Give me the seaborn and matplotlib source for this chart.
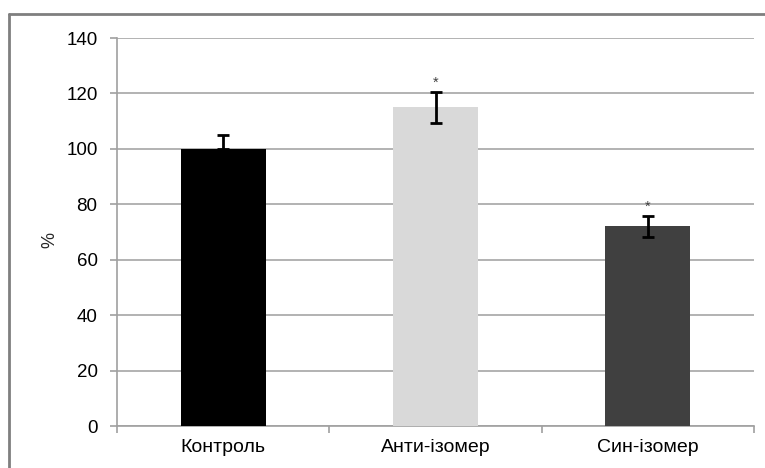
import matplotlib
matplotlib.use("Agg")
import matplotlib.pyplot as plt
from matplotlib.lines import Line2D
import numpy as np
import pandas as pd
import seaborn as sns

# Data
groups = ["Контроль", "Анти-ізомер", "Син-ізомер"]
values = [100.0, 115.0, 72.0]
err_low = [0.0, 5.5, 3.8]
err_high = [5.0, 5.5, 3.8]
significant = [False, True, True]
bar_colors = ["#000000", "#d9d9d9", "#404040"]
y_ticks = [0, 20, 40, 60, 80, 100, 120, 140]

sns.set_theme(style="white")
plt.rcParams["font.family"] = ["Liberation Sans", "DejaVu Sans"]

fig = plt.figure(figsize=(7.65, 4.68), dpi=100)
ax = fig.add_axes([0.153, 0.0897, 0.8327, 0.8291])

df = pd.DataFrame({"group": groups, "value": values})
sns.barplot(data=df, x="group", y="value", hue="group", palette=bar_colors,
            width=0.4, legend=False, errorbar=None, ax=ax, saturation=1,
            edgecolor="none", zorder=3)

x = np.arange(len(groups))
ax.errorbar(x, values, yerr=[err_low, err_high], fmt="none", ecolor="black",
            elinewidth=2, capsize=4.5, capthick=2, zorder=4)

for xi, v, eh, sig in zip(x, values, err_high, significant):
    if sig:
        ax.text(xi, v + eh + 0.8, "*", ha="center", va="bottom",
                fontsize=10.5, color="#404040", zorder=5)

ax.set_ylim(0, 140)
ax.set_xlim(-0.5, 2.5)
ax.set_yticks(y_ticks)
ax.yaxis.grid(True, color="#a6a6a6", linewidth=1.2, zorder=0)
ax.set_axisbelow(True)

ax.set_xlabel("")
ax.set_ylabel("%", fontsize=13)
ax.yaxis.set_label_coords(-0.092, 0.48)

for side in ["top", "right"]:
    ax.spines[side].set_visible(False)
for side in ["left", "bottom"]:
    ax.spines[side].set_color("#a0a0a0")
    ax.spines[side].set_linewidth(1.2)

ax.tick_params(axis="y", which="major", left=True, length=5, width=1.2,
               color="#a0a0a0", labelsize=13.5, pad=9, labelcolor="black")
ax.tick_params(axis="x", which="major", bottom=False, length=0,
               labelsize=14, pad=9, labelcolor="black")
ax.set_xticks([-0.5, 0.5, 1.5, 2.5], minor=True)
ax.tick_params(axis="x", which="minor", bottom=True, length=5, width=1.2,
               color="#a0a0a0")

# Chart-area frame (left and top edges)
fig.add_artist(Line2D([9 / 765, 9 / 765], [0, 1 - 14 / 468],
                      transform=fig.transFigure, color="#7f7f7f", linewidth=2))
fig.add_artist(Line2D([9 / 765, 1], [1 - 14 / 468, 1 - 14 / 468],
                      transform=fig.transFigure, color="#7f7f7f", linewidth=2))

fig.savefig("out.png", dpi=100)
